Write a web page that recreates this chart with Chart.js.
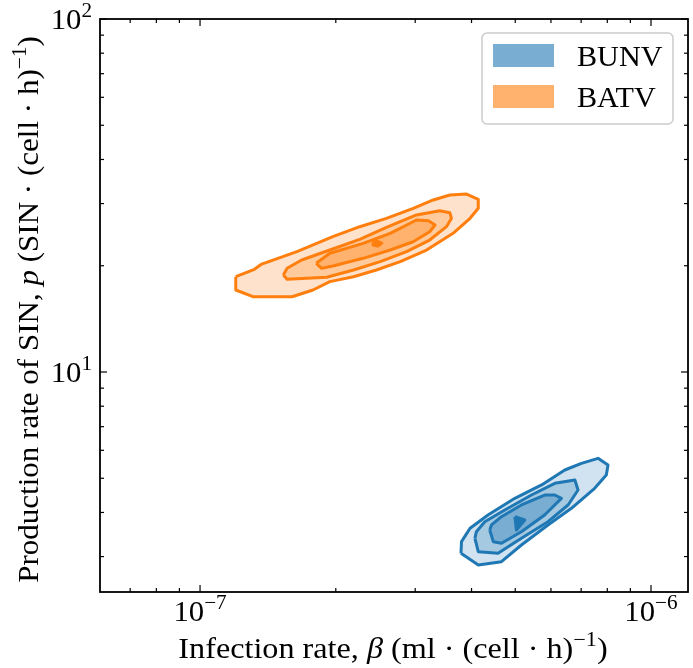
<!DOCTYPE html>
<html>
<head>
<meta charset="utf-8">
<script src="https://cdn.jsdelivr.net/npm/chart.js@4.4.1/dist/chart.umd.min.js"></script>
<style>
  html, body { margin: 0; padding: 0; background: #fff; }
</style>
</head>
<body>
<canvas id="chart" width="693" height="668"></canvas>
<script>
// beta is stored in units of 1e-7 ml (cell h)^-1
const BETA_UNIT = 1e-7;

const seriesNames = ["BUNV", "BATV"];

// BATV contours, outer -> inner
const batvOuterBeta = [1.20, 1.32, 1.37, 1.64, 1.97, 2.26, 2.59, 2.97, 3.29, 3.58, 3.90, 4.14, 4.14, 3.97, 3.64, 3.18, 2.78, 2.46, 2.19, 1.94, 1.78, 1.60, 1.31, 1.20];
const batvOuterP    = [18.62, 19.54, 20.22, 21.92, 24.17, 25.80, 27.25, 29.09, 30.71, 31.72, 31.93, 30.84, 29.09, 27.25, 24.71, 22.16, 20.54, 19.45, 18.62, 18.03, 17.07, 16.34, 16.34, 17.07];
const batvMidBeta   = [1.53, 1.56, 1.68, 1.94, 2.26, 2.59, 3.02, 3.40, 3.58, 3.61, 3.52, 3.23, 2.87, 2.51, 2.19, 1.91, 1.56];
const batvMidP      = [18.83, 19.67, 20.76, 22.16, 23.76, 25.70, 27.85, 28.64, 28.27, 27.25, 25.80, 23.65, 21.92, 20.54, 19.45, 18.55, 18.31];
const batvInnerBeta = [1.81, 1.94, 2.30, 2.64, 3.02, 3.21, 3.32, 3.23, 2.97, 2.64, 2.30, 1.97, 1.86];
const batvInnerP    = [20.32, 21.69, 23.15, 24.71, 26.95, 26.83, 26.09, 24.97, 23.39, 22.16, 20.99, 19.96, 19.67];
const batvCoreBeta  = [2.41, 2.46, 2.53, 2.48, 2.42];
const batvCoreP     = [23.19, 23.50, 23.19, 22.75, 22.90];

// BUNV contours, outer -> inner
const bunvOuterBeta = [3.79, 3.80, 3.97, 4.35, 4.99, 5.72, 6.44, 7.01, 7.63, 8.03, 7.96, 7.50, 6.66, 5.91, 5.16, 4.66, 4.14];
const bunvOuterP    = [3.064, 3.306, 3.608, 3.935, 4.387, 4.786, 5.277, 5.512, 5.694, 5.451, 5.107, 4.684, 4.111, 3.687, 3.235, 2.901, 2.840];
const bunvMidBeta   = [4.07, 4.14, 4.58, 5.16, 5.91, 6.55, 6.89, 6.78, 6.12, 5.43, 4.74, 4.28, 4.10];
const bunvMidP      = [3.380, 3.097, 3.064, 3.380, 3.767, 4.200, 4.631, 4.945, 4.838, 4.482, 4.066, 3.767, 3.529];
const bunvInnerBeta = [4.39, 4.47, 4.66, 5.16, 5.81, 6.33, 6.12, 5.81, 5.16, 4.66, 4.43];
const bunvInnerP    = [3.567, 3.306, 3.271, 3.529, 3.935, 4.387, 4.482, 4.482, 4.200, 3.891, 3.687];
const bunvCoreBeta  = [4.99, 5.25, 5.03];
const bunvCoreP     = [3.891, 3.808, 3.567];

// axis ticks
const xMajorTicks = [1e-7, 1e-6];
const xMajorExp = ["\u22127", "\u22126"];
const xMinorTicks = [7e-8, 8e-8, 9e-8, 2e-7, 3e-7, 4e-7, 5e-7, 6e-7, 7e-7, 8e-7, 9e-7];
const yMajorTicks = [10, 100];
const yMajorExp = ["1", "2"];
const yMinorTicks = [3, 4, 5, 6, 7, 8, 9, 20, 30, 40, 50, 60, 70, 80, 90];

const blue = "#1f77b4";
const orange = "#ff7f0e";
const blueFills = ["rgb(209,227,240)", "rgb(165,201,225)", "rgb(121,173,210)"];
const orangeFills = ["rgb(255,226,204)", "rgb(255,202,156)", "rgb(255,178,110)"];
const legendColors = ["rgb(121,173,210)", "rgb(255,178,110)"];

const FONT = '"Liberation Serif", "DejaVu Serif", serif';
const FS = 29;

function contour(beta, p, fillColor, lineColor, order) {
  const pts = beta.map((b, i) => ({ x: b * BETA_UNIT, y: p[i] }));
  pts.push(pts[0]);
  return {
    data: pts,
    borderColor: lineColor,
    backgroundColor: fillColor,
    borderWidth: 3,
    borderJoinStyle: "round",
    fill: "shape",
    tension: 0,
    pointRadius: 0,
    order: order
  };
}

const datasets = [
  contour(bunvCoreBeta, bunvCoreP, blue, blue, 0),
  contour(bunvInnerBeta, bunvInnerP, blueFills[2], blue, 1),
  contour(bunvMidBeta, bunvMidP, blueFills[1], blue, 2),
  contour(bunvOuterBeta, bunvOuterP, blueFills[0], blue, 3),
  contour(batvCoreBeta, batvCoreP, orange, orange, 0),
  contour(batvInnerBeta, batvInnerP, orangeFills[2], orange, 1),
  contour(batvMidBeta, batvMidP, orangeFills[1], orange, 2),
  contour(batvOuterBeta, batvOuterP, orangeFills[0], orange, 3)
];

// text with italic / superscript pieces; stretch is a horizontal factor
// (Computer Modern is wider than Times)
function drawRich(ctx, parts, x, y, align, size, stretch) {
  stretch = stretch || 1.06;
  const fontFor = s => (s === "i" ? "italic " : "") + (s === "sup" ? Math.round(size * 0.7) : size) + "px " + FONT;
  let total = 0;
  parts.forEach(([t, s]) => { ctx.font = fontFor(s); total += ctx.measureText(t).width; });
  total *= stretch;
  let cx = align === "center" ? x - total / 2 : align === "right" ? x - total : x;
  ctx.save();
  ctx.translate(cx, y);
  ctx.scale(stretch, 1);
  ctx.textAlign = "left";
  ctx.textBaseline = "alphabetic";
  let ox = 0;
  parts.forEach(([t, s]) => {
    ctx.font = fontFor(s);
    ctx.fillText(t, ox, s === "sup" ? -size * 0.4 : 0);
    ox += ctx.measureText(t).width;
  });
  ctx.restore();
}

const framePlugin = {
  id: "frame",
  afterDraw(chart) {
    const ctx = chart.ctx;
    const a = chart.chartArea;
    const xs = chart.scales.x, ys = chart.scales.y;
    ctx.save();
    ctx.strokeStyle = "#000";
    ctx.lineWidth = 1.2;
    const tick = (x1, y1, x2, y2) => { ctx.beginPath(); ctx.moveTo(x1, y1); ctx.lineTo(x2, y2); ctx.stroke(); };
    xMajorTicks.forEach(v => { const px = xs.getPixelForValue(v); tick(px, a.bottom, px, a.bottom - 7); tick(px, a.top, px, a.top + 7); });
    xMinorTicks.forEach(v => { const px = xs.getPixelForValue(v); tick(px, a.bottom, px, a.bottom - 4); tick(px, a.top, px, a.top + 4); });
    yMajorTicks.forEach(v => { const py = ys.getPixelForValue(v); tick(a.left, py, a.left + 7, py); tick(a.right, py, a.right - 7, py); });
    yMinorTicks.forEach(v => { const py = ys.getPixelForValue(v); tick(a.left, py, a.left + 4, py); tick(a.right, py, a.right - 4, py); });
    ctx.lineWidth = 1.8;
    ctx.strokeRect(a.left, a.top, a.right - a.left, a.bottom - a.top);

    ctx.fillStyle = "#000";
    xMajorTicks.forEach((v, i) => {
      drawRich(ctx, [["10", ""], [xMajorExp[i], "sup"]], xs.getPixelForValue(v), a.bottom + 29, "center", FS);
    });
    yMajorTicks.forEach((v, i) => {
      drawRich(ctx, [["10", ""], [yMajorExp[i], "sup"]], a.left - 8, ys.getPixelForValue(v) + 10, "right", FS);
    });

    // axis titles
    drawRich(ctx, [["Infection rate, ", ""], ["\u03b2", "i"], [" (ml \u00b7 (cell \u00b7 h)", ""], ["\u22121", "sup"], [")", ""]],
      (a.left + a.right) / 2 - 1, 658, "center", FS, 1.11);
    ctx.save();
    ctx.translate(38, (a.top + a.bottom) / 2 + 4);
    ctx.rotate(-Math.PI / 2);
    drawRich(ctx, [["Production rate of SIN, ", ""], ["p", "i"], [" (SIN \u00b7 (cell \u00b7 h)", ""], ["\u22121", "sup"], [")", ""]],
      0, 0, "center", FS, 1.07);
    ctx.restore();

    // legend
    const lx = 482, ly = 33, lw = 191, lh = 91;
    ctx.beginPath();
    ctx.roundRect(lx, ly, lw, lh, 5);
    ctx.fillStyle = "rgba(255,255,255,0.8)";
    ctx.fill();
    ctx.strokeStyle = "#cccccc";
    ctx.lineWidth = 1.5;
    ctx.stroke();
    seriesNames.forEach((name, i) => {
      const ry = 44 + i * 41;
      ctx.fillStyle = legendColors[i];
      ctx.fillRect(493, ry, 61, 23);
      ctx.fillStyle = "#000";
      drawRich(ctx, [[name, ""]], 577, ry + 22, "left", FS, 1.04);
    });
    ctx.restore();
  }
};

new Chart(document.getElementById("chart"), {
  type: "line",
  data: { datasets: datasets },
  options: {
    responsive: false,
    animation: false,
    layout: { padding: { top: 19, right: 5, left: 0, bottom: 0 } },
    plugins: { legend: { display: false }, tooltip: { enabled: false } },
    events: [],
    scales: {
      x: {
        type: "logarithmic",
        min: 6.004e-8,
        max: 1.208e-6,
        ticks: { display: false },
        grid: { display: false },
        border: { display: false },
        afterFit: s => { s.height = 76; }
      },
      y: {
        type: "logarithmic",
        min: 2.381,
        max: 100,
        ticks: { display: false },
        grid: { display: false },
        border: { display: false },
        afterFit: s => { s.width = 100; }
      }
    }
  },
  plugins: [framePlugin]
});
</script>
</body>
</html>
